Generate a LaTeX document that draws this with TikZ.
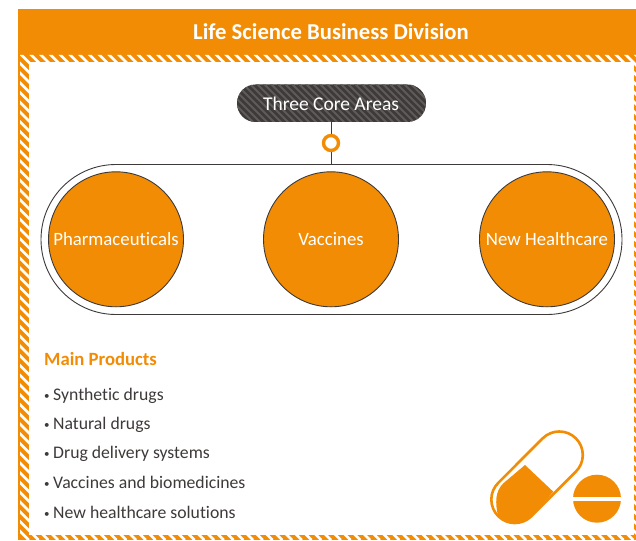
\documentclass[tikz,border=0pt]{standalone}
\usepackage{fontspec}
\setmainfont[Ligatures=NoCommon]{Carlito}
\definecolor{lsorange}{HTML}{F28C04}
\definecolor{lsdark}{HTML}{3E3A39}
\definecolor{lsstripe}{HTML}{5F5B5A}
\newcommand{\lsbullet}{\makebox[9pt][l]{\fontsize{11}{11}\selectfont\raisebox{1pt}{•}}}
\tikzset{
  coreCircle/.style={circle,draw=lsdark,line width=0.9pt,fill=lsorange,minimum size=135pt,inner sep=0pt,text=white,font=\fontsize{18.8}{20}\selectfont},
  listText/.style={anchor=base west,inner sep=0pt,text=lsdark,font=\fontsize{17.7}{20}\selectfont},
  link/.style={line width=0.9pt,draw=lsdark}
}
\begin{document}
\begin{tikzpicture}[x=1pt,y=-1pt]
\useasboundingbox (0,0) rectangle (636,540);
% frame
\fill[lsorange] (18,9) rectangle (636,62);
\fill[lsorange] (18,55) rectangle (29,540);
\fill[lsorange] (18,535) rectangle (636,540);
\fill[lsorange] (634,55) rectangle (636,540);
\fill[white] (29,62) rectangle (634,535);
\begin{scope}
  \clip (20,55) rectangle (636,62) (20,62) rectangle (29,535) (20,535) rectangle (636,540) (634,62) rectangle (636,535);
  \foreach \k in {0,...,125}{
    \draw[white,line width=2.6pt] ({\k*9.75-560},0) -- ({\k*9.75-20},540);
  }
\end{scope}
\node[text=white,font=\bfseries\fontsize{22.7}{24}\selectfont] (title) at (331,32) {Life Science Business Division};
% connector
\coordinate (top) at (331,122);
\coordinate (bottom) at (331,165);
\draw[link] (top) -- (bottom);
% pill
\begin{scope}
  \clip[rounded corners=18.5pt] (237,84.5) rectangle (426,122);
  \fill[lsdark] (237,84) rectangle (426,123);
  \foreach \k in {0,...,40}{
    \draw[lsstripe,line width=2pt] ({\k*7+180},70) -- ({\k*7+240},130);
  }
\end{scope}
\node[text=white,font=\fontsize{19.5}{20}\selectfont] (core) at (331,103.5) {Three Core Areas};
% ring
\node[circle,draw=lsorange,fill=white,line width=3.4pt,minimum size=15pt,inner sep=0pt] (ring) at (331,143) {};
% capsule frame
\draw[link,fill=white,rounded corners=75pt] (41,164.5) rectangle (622,314.5);
\node[coreCircle] (a) at (116,239.3) {Pharmaceuticals};
\node[coreCircle] (b) at (331,239.3) {Vaccines};
\node[coreCircle] (c) at (547,239.3) {New Healthcare};
% list
\node[anchor=base west,inner sep=0pt,text=lsorange,font=\bfseries\fontsize{18.7}{20}\selectfont] (head) at (44,365) {Main Products};
\node[listText] (l1) at (44,400) {\lsbullet Synthetic drugs};
\node[listText] (l2) at (44,429) {\lsbullet Natural drugs};
\node[listText] (l3) at (44,458) {\lsbullet Drug delivery systems};
\node[listText] (l4) at (44,488) {\lsbullet Vaccines and biomedicines};
\node[listText] (l5) at (44,518) {\lsbullet New healthcare solutions};
% capsule icon
\draw[lsorange,line width=2.6pt,line join=round] (575.9,471.6) arc[start angle=45,end angle=-135,radius=23.5] -- (498.2,482.9) arc[start angle=-135,end angle=-315,radius=23.5] -- cycle;
\fill[lsorange] (525,465) -- (553.3,491.7) -- (531.4,516.1) arc[start angle=45,end angle=135,radius=23.5] .. controls (495,503) and (495,491.5) .. (503.3,483.3) -- cycle;
% tablet
\fill[lsorange] (597,498.7) circle[radius=24];
\fill[white] (572,496.5) rectangle (622,501);
\end{tikzpicture}
\end{document}
